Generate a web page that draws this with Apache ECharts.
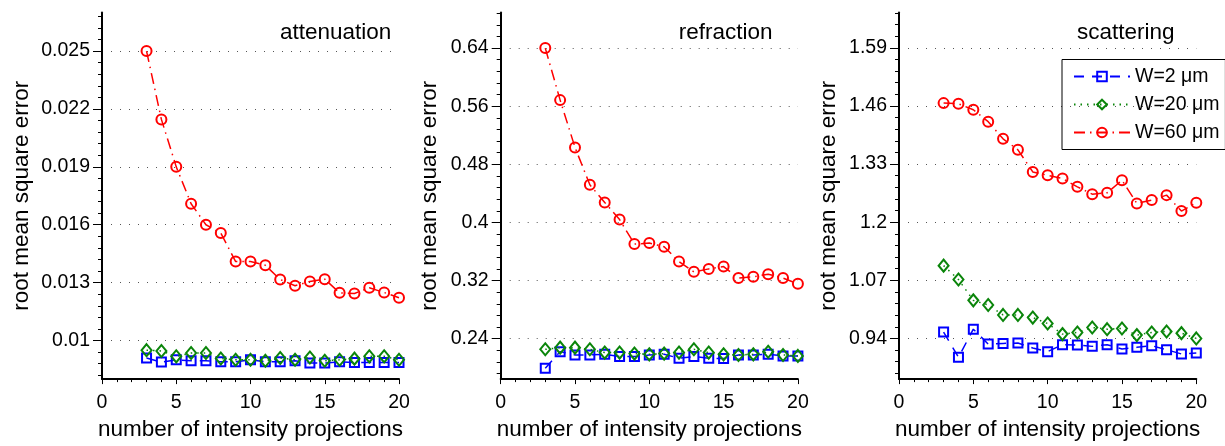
<!DOCTYPE html>
<html>
<head>
<meta charset="utf-8">
<script src="https://cdn.jsdelivr.net/npm/echarts@6/dist/echarts.min.js"></script>
<style>
html,body{margin:0;padding:0;background:#fff}
#charts{width:1225px;height:446px}
</style>
</head>
<body>
<div id="charts"></div>
<script>
// number of intensity projections
var xValues = [3,4,5,6,7,8,9,10,11,12,13,14,15,16,17,18,19,20];

// attenuation
var attW2  = [0.00909,0.00888,0.0090,0.00895,0.00895,0.0089,0.0089,0.0090,0.0089,0.0089,0.00895,0.00883,0.00883,0.0089,0.00886,0.00886,0.00886,0.00886];
var attW20 = [0.0095,0.00946,0.00918,0.00935,0.00935,0.00907,0.0090,0.0090,0.00895,0.00909,0.0090,0.00912,0.00895,0.0090,0.00906,0.00918,0.00918,0.0090];
var attW60 = [0.0250,0.02146,0.0190,0.01709,0.0160,0.01557,0.01409,0.01409,0.0139,0.01316,0.01284,0.01306,0.01318,0.01247,0.01244,0.01273,0.01249,0.01222];

// refraction
var refW2  = [0.1994,0.2222,0.2177,0.2177,0.2185,0.2154,0.2154,0.2176,0.2185,0.2131,0.2154,0.2131,0.2127,0.2176,0.2176,0.2185,0.2163,0.2163];
var refW20 = [0.2254,0.2277,0.2277,0.2254,0.2209,0.2209,0.2195,0.2185,0.2195,0.2209,0.2254,0.2209,0.2185,0.2176,0.2185,0.2220,0.2176,0.2163];
var refW60 = [0.6400,0.5684,0.5033,0.4518,0.4276,0.4040,0.3702,0.3716,0.3667,0.3462,0.3320,0.3361,0.3393,0.3234,0.3252,0.3288,0.3234,0.3156];

// scattering
var scaW2  = [0.9542,0.8978,0.9607,0.9273,0.9289,0.9296,0.9185,0.9104,0.9260,0.9252,0.9222,0.9260,0.9163,0.9200,0.9237,0.9148,0.9052,0.9074];
var scaW20 = [1.1028,1.0717,1.0251,1.0148,0.9926,0.9926,0.9866,0.9733,0.9496,0.9533,0.9644,0.9607,0.9622,0.9474,0.9533,0.9555,0.9518,0.9400];
var scaW60 = [1.4663,1.4648,1.4515,1.4248,1.3864,1.3619,1.3124,1.3049,1.2975,1.2791,1.2627,1.2657,1.2938,1.2420,1.2494,1.2605,1.2249,1.2436];

var titles = ['attenuation', 'refraction', 'scattering'];
var legendNames = ['W=2 \u03bcm', 'W=20 \u03bcm', 'W=60 \u03bcm'];

// y tick values (labelled) per panel
var attTicks = [0.01, 0.013, 0.016, 0.019, 0.022, 0.025];
var refTicks = [0.24, 0.32, 0.4, 0.48, 0.56, 0.64];
var scaTicks = [0.94, 1.07, 1.2, 1.33, 1.46, 1.59];
var xTicks = [0, 5, 10, 15, 20];

var font = 'Liberation Sans, Arial, Helvetica, sans-serif';
var colors = ['#0000ff', '#0a850a', '#ff0000'];

var panels = [
  {ticks: attTicks, min: 0.008, max: 0.027, minorStep: 0.0006, data: [attW2, attW20, attW60], left: 102, width: 297, nameGap: 69},
  {ticks: refTicks, min: 0.1844, max: 0.689, minorStep: 0.016, data: [refW2, refW20, refW60], left: 500.7, width: 297.2, nameGap: 59},
  {ticks: scaTicks, min: 0.849, max: 1.669, minorStep: 0.026, data: [scaW2, scaW20, scaW60], left: 899, width: 297.3, nameGap: 59}
];

// minor tick positions, stepping from the first labelled tick
function minorTicks(p) {
  var out = [];
  var base = p.ticks[0];
  var k0 = Math.ceil((p.min - base) / p.minorStep - 1e-6);
  for (var k = k0; base + k * p.minorStep <= p.max + 1e-9; k++) {
    out.push(+(base + k * p.minorStep).toFixed(6));
  }
  return out;
}

function pairs(ys) {
  return xValues.map(function (x, i) { return [x, ys[i]]; });
}

var grids = [], xAxes = [], yAxes = [], series = [], titleList = [];
var lineTypes = [[10, 8], [1.5, 5], [11, 5, 1.5, 5]];
var symbols = ['rect', 'diamond', 'circle'];
var symbolSizes = [9, [10, 12], 10];

panels.forEach(function (p, i) {
  grids.push({left: p.left, top: 12.5, width: p.width, height: 369});
  titleList.push({
    text: titles[i], left: p.left + 178, top: 21, padding: 0,
    textStyle: {fontFamily: font, fontSize: 22.5, fontWeight: 'normal', color: '#000', lineHeight: 24}
  });
  xAxes.push({
    type: 'value', gridIndex: i, min: 0, max: 20, interval: 5,
    name: 'number of intensity projections', nameLocation: 'middle', nameGap: 37,
    nameTextStyle: {fontFamily: font, fontSize: 22.5, color: '#000'},
    axisLine: {show: true, onZero: false, lineStyle: {color: '#000', width: 2}},
    axisTick: {show: true, inside: false, length: 5, lineStyle: {color: '#000', width: 1}},
    minorTick: {show: true, splitNumber: 5, length: 3, lineStyle: {color: '#000', width: 1}},
    axisLabel: {fontFamily: font, fontSize: 19.5, color: '#000', margin: 14, customValues: xTicks},
    splitLine: {show: false}
  });
  // labelled axis with major ticks and dotted grid lines
  yAxes.push({
    type: 'value', gridIndex: i, min: p.min, max: p.max, position: 'left',
    name: 'root mean square error', nameLocation: 'middle', nameGap: p.nameGap,
    nameTextStyle: {fontFamily: font, fontSize: 22.5, color: '#000'},
    axisLine: {show: true, onZero: false, lineStyle: {color: '#000', width: 2}},
    axisTick: {show: true, inside: false, length: 9, customValues: p.ticks, lineStyle: {color: '#000', width: 1}},
    axisLabel: {fontFamily: font, fontSize: 19.5, color: '#000', margin: 12, customValues: p.ticks},
    splitLine: {show: true, lineStyle: {color: '#555', width: 1, type: [1, 8]}}
  });
  // minor ticks only
  yAxes.push({
    type: 'value', gridIndex: i, min: p.min, max: p.max, position: 'left',
    axisLine: {show: false},
    axisTick: {show: true, inside: false, length: 4, customValues: minorTicks(p), lineStyle: {color: '#000', width: 1}},
    axisLabel: {show: false},
    splitLine: {show: false}
  });
  p.data.forEach(function (ys, s) {
    series.push({
      type: 'line', name: legendNames[s],
      xAxisIndex: i, yAxisIndex: i * 2,
      data: pairs(ys),
      symbol: symbols[s], symbolSize: symbolSizes[s],
      showAllSymbol: true,
      lineStyle: {color: colors[s], width: 1.5, type: lineTypes[s]},
      itemStyle: {color: 'rgba(255,255,255,0)', borderColor: colors[s], borderWidth: 2},
      emphasis: {disabled: true},
      z: 2 + s
    });
  });
});

var option = {
  animation: false,
  backgroundColor: '#fff',
  title: titleList,
  legend: {
    data: legendNames, orient: 'vertical', left: 1062, top: 59.5,
    selectedMode: false,
    borderColor: '#000', borderWidth: 1, padding: [7, 6, 7, 11],
    itemWidth: 56, itemHeight: 12, itemGap: 8,
    textStyle: {fontFamily: font, fontSize: 19.5, color: '#000', lineHeight: 20}
  },
  grid: grids,
  xAxis: xAxes,
  yAxis: yAxes,
  series: series
};

var myChart = echarts.init(document.getElementById('charts'));
myChart.setOption(option);
window.addEventListener('resize', function () {
  myChart.resize();
});
</script>
</body>
</html>
